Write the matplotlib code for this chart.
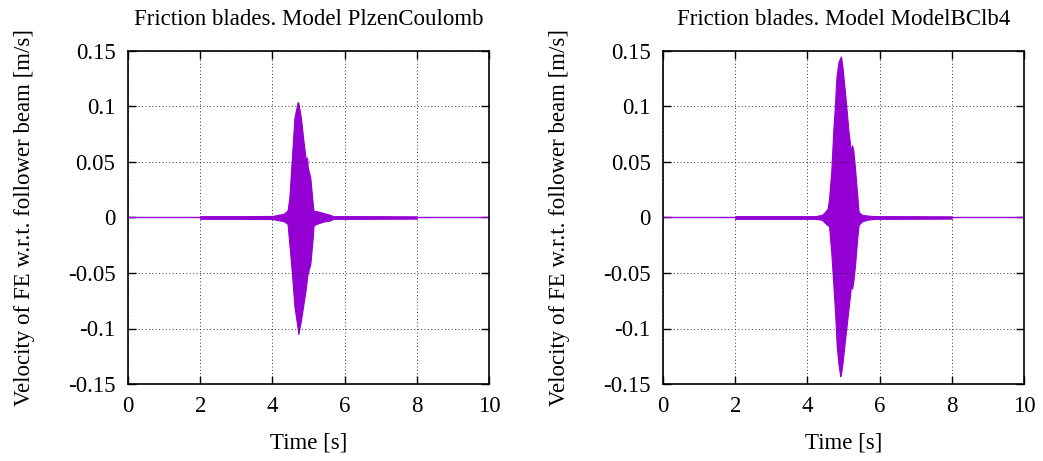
import matplotlib
matplotlib.use('Agg')
import matplotlib.pyplot as plt
import numpy as np

plt.rcParams['font.family'] = ['Liberation Serif', 'DejaVu Serif']
plt.rcParams['font.size'] = 16.5

COLOR = '#9400d3'

titles = ['Friction blades. Model PlzenCoulomb', 'Friction blades. Model ModelBClb4']
x_ticks = [0, 2, 4, 6, 8, 10]
y_ticks = [-0.15, -0.1, -0.05, 0, 0.05, 0.1, 0.15]
y_tick_labels = ['-0.15', '-0.1', '-0.05', '0', '0.05', '0.1', '0.15']

# envelope of the oscillating signal (time [s], upper/lower [m/s])
t_plzen = [2.0, 3.0, 4.0, 4.31, 4.42, 4.47, 4.54, 4.61, 4.70, 4.72, 4.79, 4.86,
           4.93, 4.96, 4.98, 5.05, 5.11, 5.14, 5.23, 5.42, 5.60, 5.68, 6.5, 8.0]
up_plzen = [0.0012, 0.0012, 0.0014, 0.0033, 0.0063, 0.018, 0.054, 0.09, 0.104, 0.103, 0.09, 0.069,
            0.051, 0.054, 0.045, 0.036, 0.015, 0.006, 0.0057, 0.004, 0.0024, 0.0012, 0.0012, 0.001]
lo_plzen = [-0.0012, -0.0012, -0.0014, -0.0033, -0.0057, -0.024, -0.05, -0.08, -0.10, -0.105, -0.093, -0.078,
            -0.063, -0.054, -0.05, -0.042, -0.021, -0.007, -0.0057, -0.0036, -0.0027, -0.0012, -0.0012, -0.001]

t_bclb = [2.0, 3.0, 4.0, 4.21, 4.40, 4.49, 4.56, 4.60, 4.66, 4.72, 4.77, 4.79, 4.81, 4.86,
          4.91, 4.93, 4.97, 5.05, 5.14, 5.21, 5.24, 5.27, 5.32, 5.38, 5.42, 5.51, 5.65, 5.88, 6.5, 8.0]
up_bclb = [0.0012, 0.0012, 0.0012, 0.0012, 0.0024, 0.005, 0.008, 0.017, 0.041, 0.080, 0.105, 0.119, 0.128, 0.14,
           0.144, 0.145, 0.136, 0.11, 0.077, 0.059, 0.065, 0.061, 0.044, 0.02, 0.005, 0.0024, 0.0018, 0.0012, 0.0012, 0.001]
lo_bclb = [-0.0012, -0.0012, -0.0012, -0.0012, -0.002, -0.005, -0.007, -0.008, -0.031, -0.061, -0.088, -0.10, -0.115, -0.132,
           -0.143, -0.141, -0.132, -0.108, -0.082, -0.061, -0.064, -0.058, -0.043, -0.019, -0.0066, -0.0036, -0.002, -0.0012, -0.0012, -0.001]

envelopes = [(t_plzen, up_plzen, lo_plzen), (t_bclb, up_bclb, lo_bclb)]

fig = plt.figure(figsize=(10.43, 4.61), dpi=100)
lefts = [128 / 1043, 663 / 1043]

for i in range(2):
    ax = fig.add_axes([lefts[i], 1 - 384 / 461, 361 / 1043, 333 / 461])
    t, up, lo = envelopes[i]
    ax.plot([0, 10], [0, 0], color=COLOR, lw=1)
    ax.fill_between(t, lo, up, color=COLOR, lw=0.8, edgecolor=COLOR)

    ax.set_xlim(0, 10)
    ax.set_ylim(-0.15, 0.15)
    ax.set_xticks(x_ticks)
    ax.set_yticks(y_ticks)
    ax.set_yticklabels(y_tick_labels)
    ax.tick_params(direction='in', top=True, right=True, length=6, width=1, pad=9)
    ax.grid(True, color='black', linestyle=(0, (1, 2.5)), linewidth=0.7, alpha=0.8)
    for s in ax.spines.values():
        s.set_linewidth(1.2)

    ax.set_title(titles[i], pad=19, fontsize=16.5)
    ax.set_xlabel('Time [s]')
    ax.set_ylabel('Velocity of FE w.r.t. follower beam [m/s]')
    ax.xaxis.set_label_coords(0.5, -0.145)
    ax.yaxis.set_label_coords(-0.258, 0.5)

fig.savefig('out.png', dpi=100)
